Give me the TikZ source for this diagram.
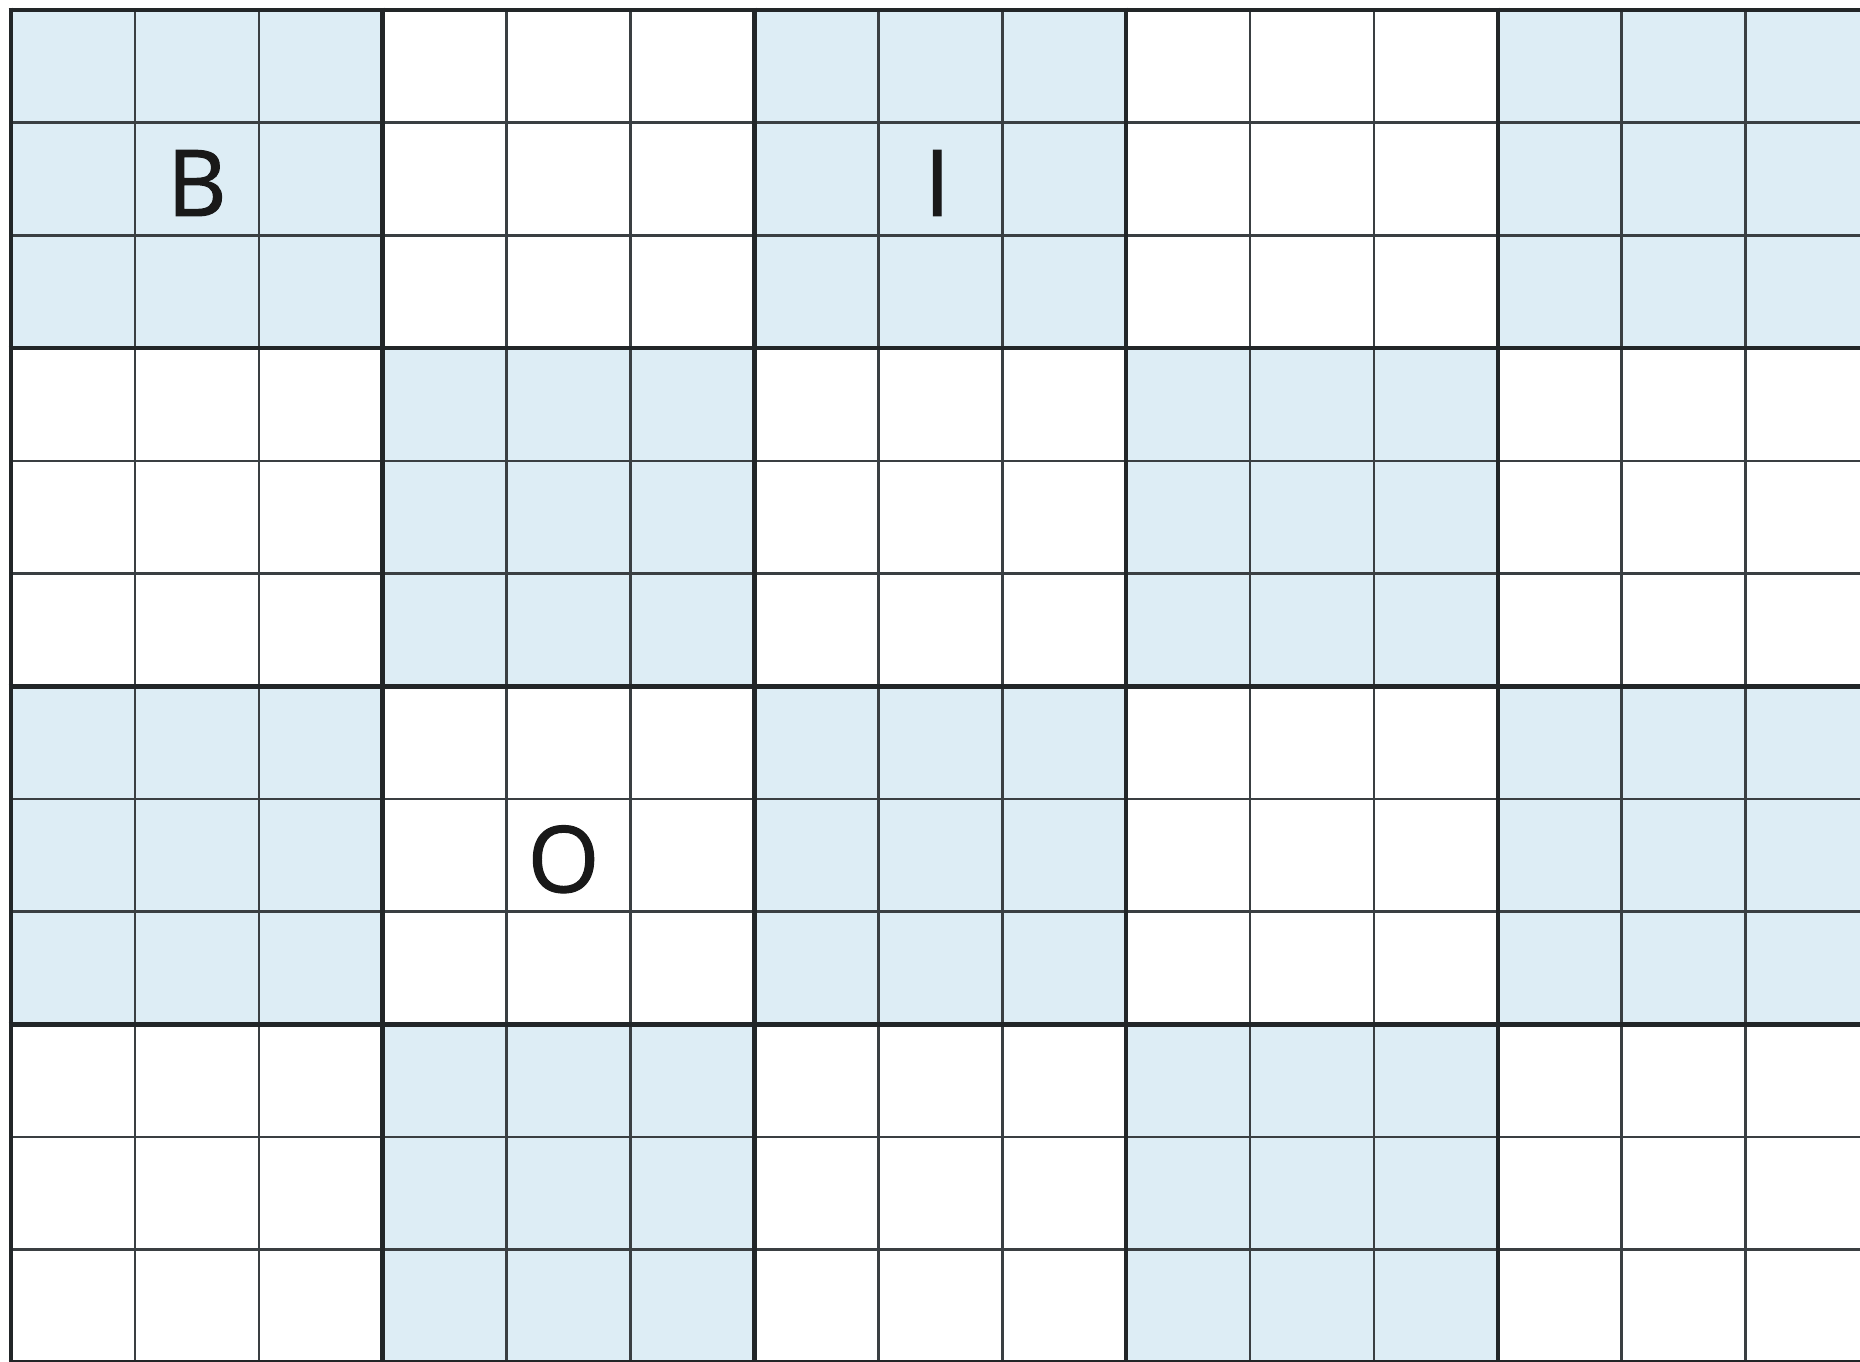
\documentclass[tikz,border=0pt]{standalone}
\usepackage{fontspec}
\setmainfont{Open Sans}
\newfontfamily\letterfont[FakeBold=1.2]{Open Sans}
\definecolor{cellblue}{HTML}{DDEDF5}
\definecolor{thinline}{HTML}{3A3F42}
\definecolor{thickline}{HTML}{222628}
\begin{document}
\begin{tikzpicture}[x=1pt,y=-1pt,
  thin grid/.style={draw=thinline,line width=2.6pt},
  thick grid/.style={draw=thickline,line width=4.6pt},
  letter/.style={font=\letterfont\fontsize{92}{92}\selectfont,text=black!90,inner sep=0pt}]
\def\cw{123.9}
\def\ch{112.7}
\def\ox{11}
\def\oy{10}
\fill[white] (0,0) rectangle (1860,1362);
\useasboundingbox (0,0) rectangle (1860,1362);
\begin{scope}
\clip (0,0) rectangle (1860,1362);
% shaded 3x3 blocks
\foreach \i in {0,...,4}{
  \foreach \j in {0,...,3}{
    \pgfmathtruncatemacro{\myparity}{mod(\i+\j,2)}
    \ifnum\myparity=0
      \fill[cellblue] ({\ox+3*\i*\cw},{\oy+3*\j*\ch}) rectangle ({\ox+(3*\i+3)*\cw},{\oy+(3*\j+3)*\ch});
    \fi
  }
}
% thin lines
\foreach \k in {0,...,15}{
  \draw[thin grid] ({\ox+\k*\cw},\oy) -- ({\ox+\k*\cw},1400);
}
\foreach \k in {0,...,12}{
  \draw[thin grid] (\ox,{\oy+\k*\ch}) -- (1900,{\oy+\k*\ch});
}
% thick lines
\foreach \k in {0,3,...,15}{
  \draw[thick grid] ({\ox+\k*\cw},{\oy-2.3}) -- ({\ox+\k*\cw},1400);
}
\foreach \k in {0,3,...,12}{
  \draw[thick grid] ({\ox-2.3},{\oy+\k*\ch}) -- (1900,{\oy+\k*\ch});
}
\end{scope}
\node[letter] (B) at ({\ox+1.5*\cw},{\oy+1.5*\ch+4}) {B};
\node[letter] (I) at ({\ox+7.5*\cw-3},{\oy+1.5*\ch+4}) {I};
\node[letter] (O) at ({\ox+4.5*\cw-5},{\oy+7.5*\ch+4}) {O};
\end{tikzpicture}
\end{document}
